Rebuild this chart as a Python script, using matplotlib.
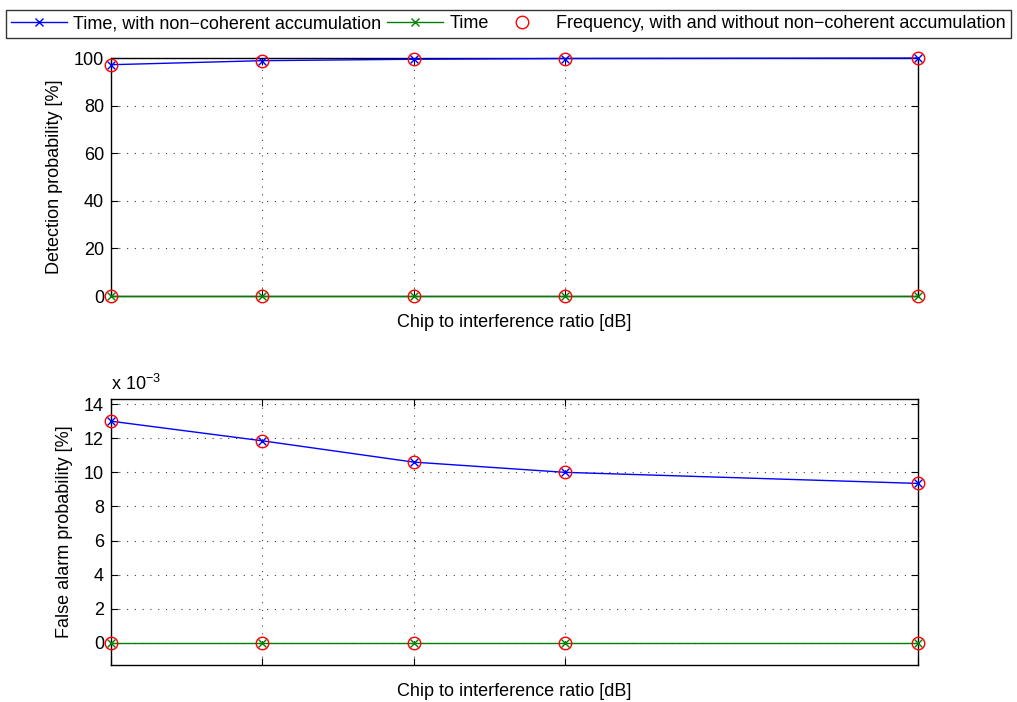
import matplotlib
matplotlib.use("Agg")
import matplotlib.pyplot as plt
from matplotlib.ticker import FuncFormatter

plt.rcParams['font.family'] = ['Liberation Sans', 'DejaVu Sans']
plt.rcParams['font.size'] = 13

# chip to interference ratio [dB] (no tick labels shown on the chart)
cir = [0, 3, 6, 9, 16]

# detection probability [%]
det_time_nc = [97.2, 98.9, 99.5, 99.8, 100.0]
det_time = [0, 0, 0, 0, 0]
det_freq_nc = [97.2, 98.9, 99.5, 99.8, 100.0]
det_freq = [0, 0, 0, 0, 0]

# false alarm probability [%]
fa_time_nc = [0.0130, 0.01185, 0.0106, 0.0100, 0.00935]
fa_time = [0, 0, 0, 0, 0]
fa_freq_nc = [0.0130, 0.01185, 0.0106, 0.0100, 0.00935]
fa_freq = [0, 0, 0, 0, 0]

labels = ['Time, with non\u2212coherent accumulation', 'Time',
          'Frequency, with and without non\u2212coherent accumulation']

blue = (0, 0, 1)
green = (0, 0.5, 0)
red = (1, 0, 0)

fig = plt.figure(figsize=(10.17, 7.02), dpi=100)
ax1 = fig.add_axes([0.1091, 0.5783, 0.7935, 0.3390])
ax2 = fig.add_axes([0.1091, 0.0527, 0.7935, 0.3789])


def draw(ax, y_nc, y_t, y_fnc, y_f):
    h1, = ax.plot(cir, y_nc, '-x', color=blue, lw=1, ms=6, mew=1, label=labels[0],
                  zorder=3, clip_on=False)
    h2, = ax.plot(cir, y_t, '-x', color=green, lw=1, ms=6, mew=1, label=labels[1],
                  zorder=3, clip_on=False)
    h3, = ax.plot(cir, y_fnc, 'o', color=red, mfc='none', ms=9, mew=1, label=labels[2],
                  zorder=4, clip_on=False)
    ax.plot(cir, y_f, 'o', color=red, mfc='none', ms=9, mew=1, zorder=4, clip_on=False)
    ax.set_xlim(cir[0], cir[-1])
    ax.set_xticks(cir)
    ax.set_xticklabels([])
    ax.set_xlabel('Chip to interference ratio [dB]', labelpad=8)
    ax.tick_params(direction='in', top=True, right=True, length=5, width=0.8, pad=5)
    ax.grid(True, linestyle=(0, (1, 6)), color='#404040', lw=0.8)
    for s in ax.spines.values():
        s.set_linewidth(1.0)
    return [h1, h2, h3]


handles = draw(ax1, det_time_nc, det_time, det_freq_nc, det_freq)
ax1.set_ylim(0, 100)
ax1.set_yticks([0, 20, 40, 60, 80, 100])
ax1.set_ylabel('Detection probability [%]', labelpad=8)

draw(ax2, fa_time_nc, fa_time, fa_freq_nc, fa_freq)
ax2.set_ylim(-0.0013, 0.0143)
ax2.set_yticks([0, 0.002, 0.004, 0.006, 0.008, 0.010, 0.012, 0.014])
ax2.yaxis.set_major_formatter(FuncFormatter(lambda v, p: '%d' % round(v * 1000)))
ax2.set_ylabel('False alarm probability [%]', labelpad=8)
ax2.text(0.0, 1.02, 'x 10$^{\\mathregular{-3}}$', transform=ax2.transAxes,
         ha='left', va='bottom')

leg = fig.legend(handles=handles, labels=labels, loc='upper center',
                 bbox_to_anchor=(0.5, 1 - 10 / 702), ncol=3, frameon=True,
                 fancybox=False, edgecolor='black', handlelength=3.1,
                 columnspacing=0.3, handletextpad=0.35, borderpad=0.3,
                 borderaxespad=0)
leg.get_frame().set_linewidth(1.0)

fig.savefig('out.png', dpi=100)
